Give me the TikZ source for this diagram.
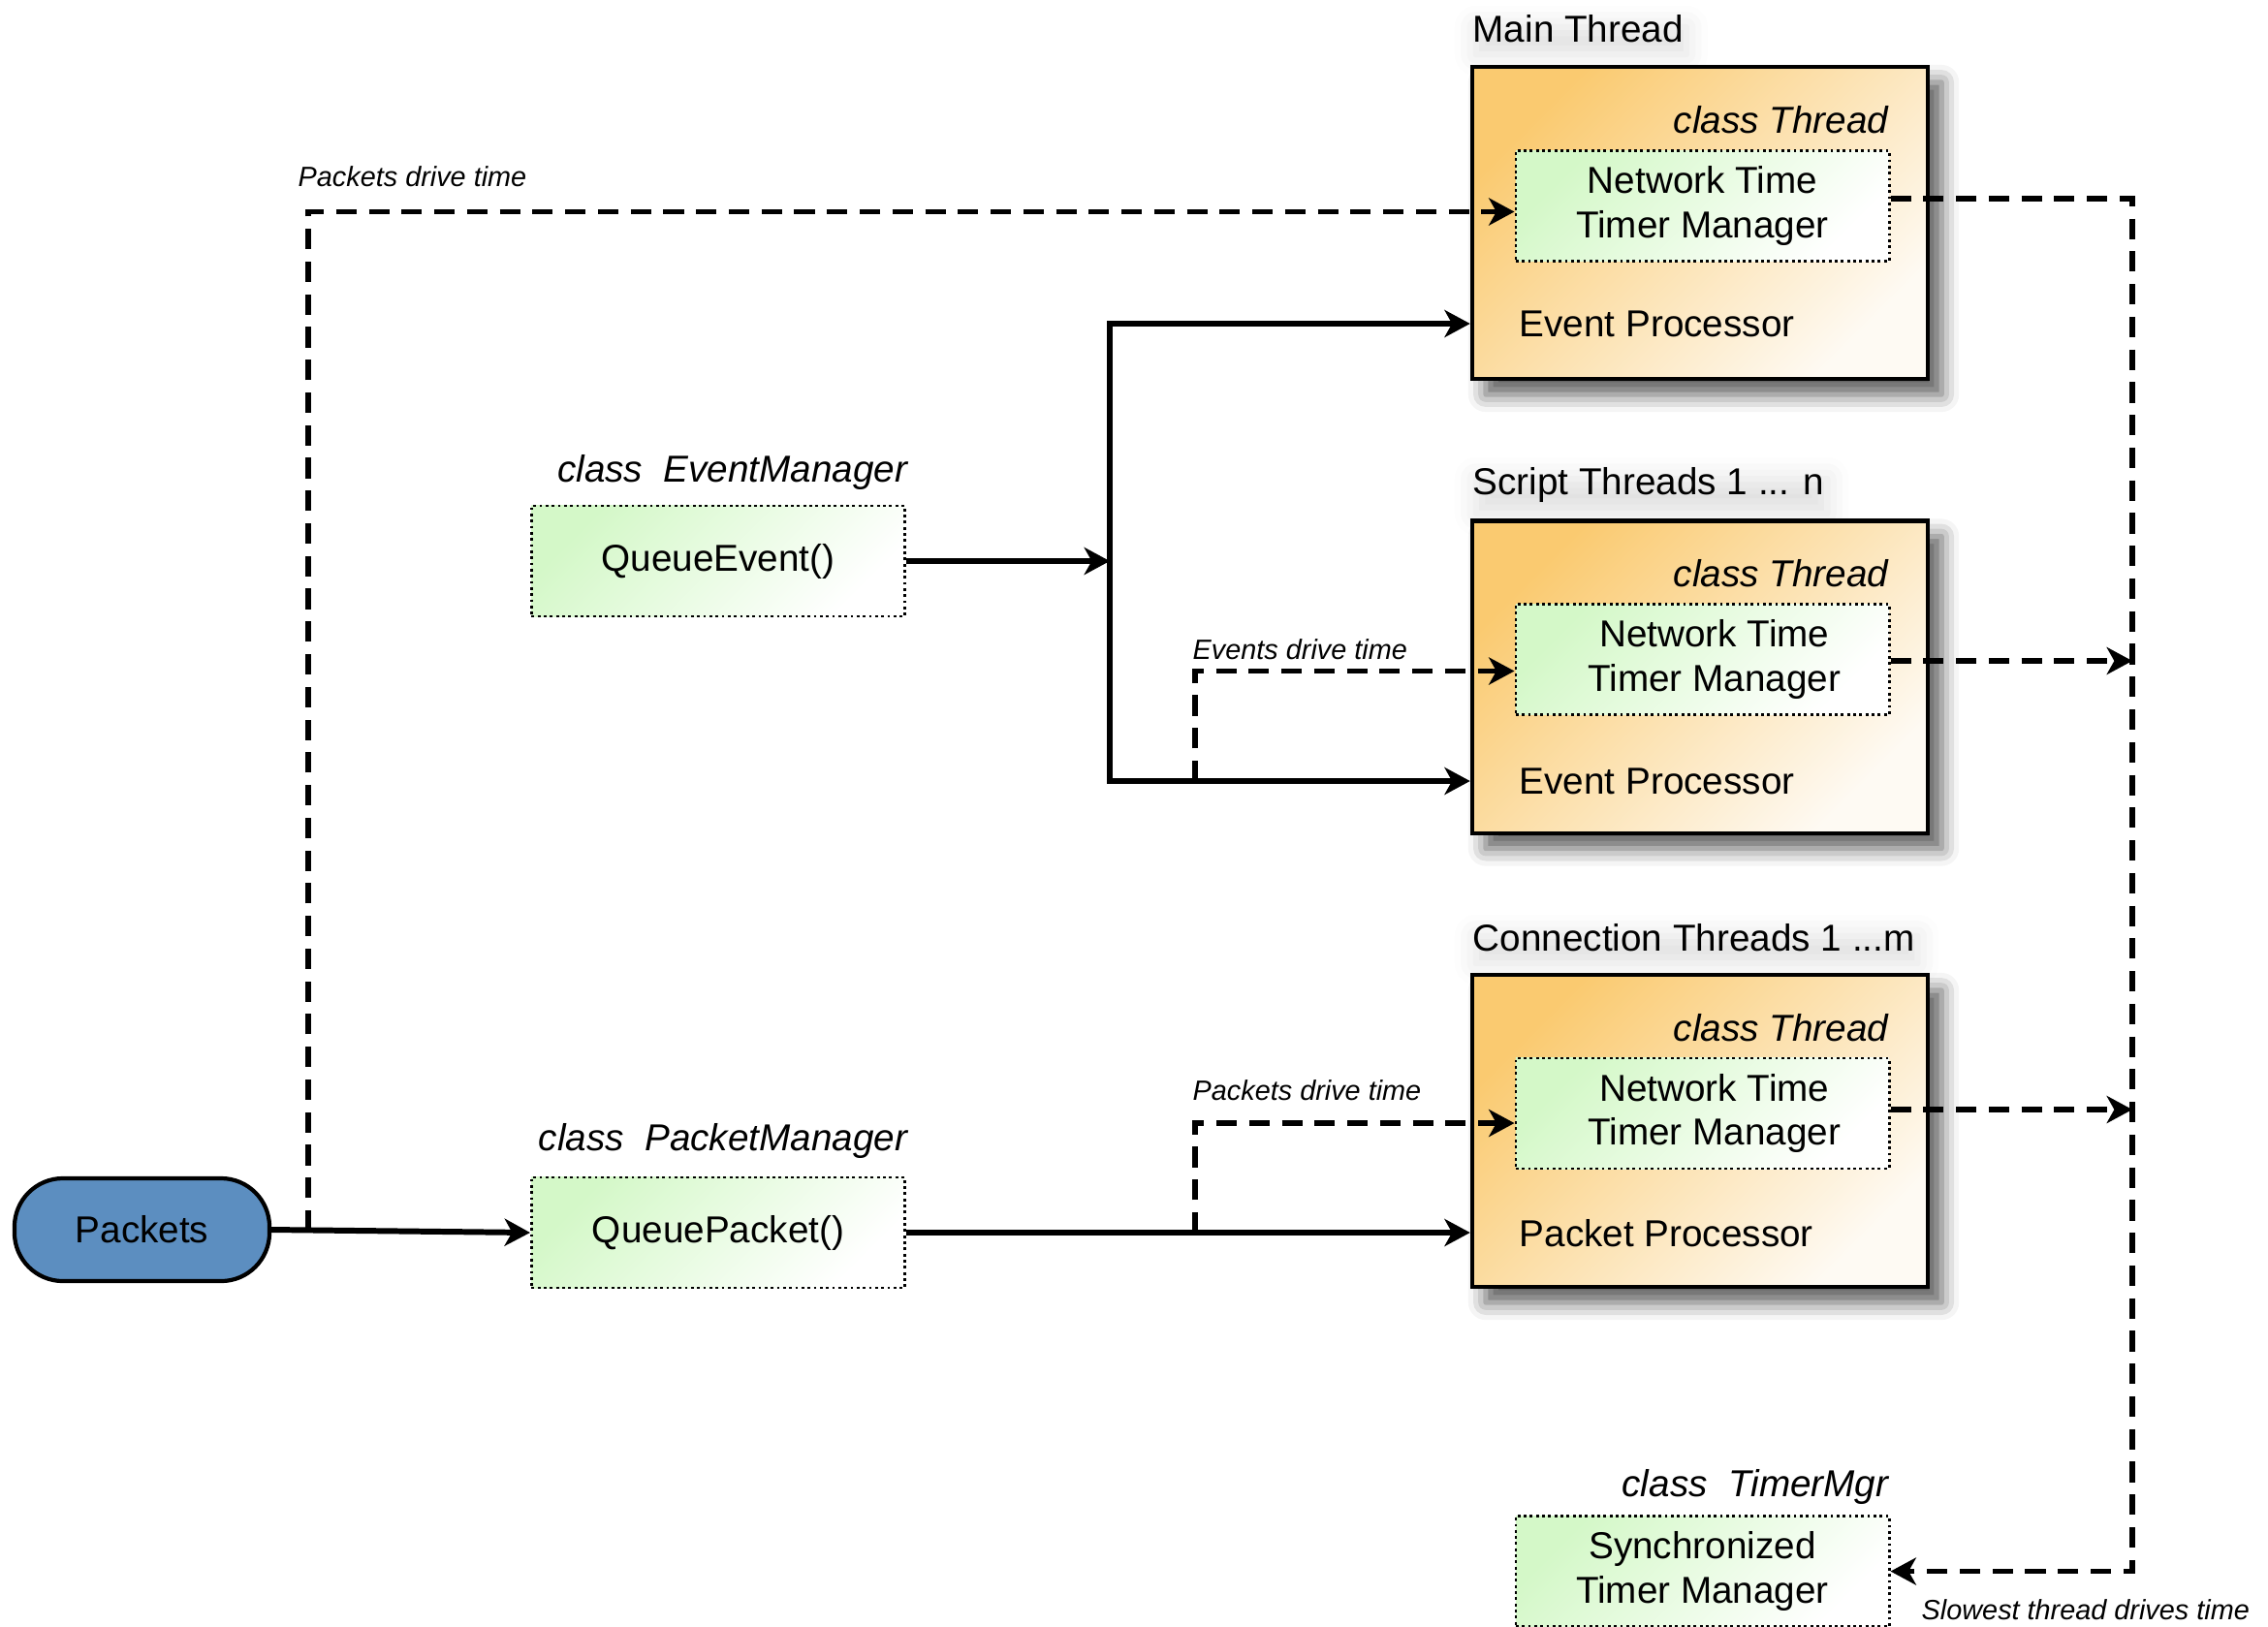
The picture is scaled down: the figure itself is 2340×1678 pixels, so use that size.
\documentclass[tikz,border=0pt]{standalone}
\usepackage{fontspec}
\setmainfont{Liberation Sans}
\usepackage{xcolor}
\usepackage{tikz}
\usetikzlibrary{arrows.meta,shadows.blur}

\definecolor{throrange}{RGB}{250,202,112}
\definecolor{thrlight}{RGB}{254,250,243}
\definecolor{mgrgreen}{RGB}{212,248,200}
\definecolor{pktblue}{RGB}{92,142,192}

\begin{document}
\begin{tikzpicture}[x=0.01cm, y=0.01cm,
    every node/.style={font=\fontsize{11}{13}\selectfont},
    thrbox/.style={draw, line width=1.2pt, minimum width=4.7cm, minimum height=3.22cm,
      top color=throrange, bottom color=thrlight, shading angle=45,
      blur shadow={shadow xshift=1.4mm, shadow yshift=-1.6mm, shadow blur radius=1.8mm, shadow opacity=65}},
    mgrbox/.style={draw, densely dotted, line width=0.8pt, minimum width=3.85cm, minimum height=1.14cm,
      align=center, top color=mgrgreen, bottom color=white, shading angle=45},
    clsname/.style={inner sep=0pt, font=\fontsize{11}{13}\selectfont\itshape},
    txt/.style={inner sep=0pt},
    thrtitle/.style={inner sep=0pt,
      blur shadow={shadow xshift=0.3mm, shadow yshift=-1.2mm, shadow blur radius=2.2mm, shadow opacity=12}},
    lbl/.style={inner sep=0pt, font=\fontsize{8.2}{10}\selectfont\itshape},
    sline/.style={line width=1.7pt},
    dline/.style={line width=1.6pt, dash pattern=on 6pt off 3.6pt},
    >={Stealth[length=7.5pt, width=8pt, inset=2.2pt]}]
  \useasboundingbox (0,0) rectangle (2340,-1678);

  % main thread
  \node[thrtitle, anchor=west] (maintit) at (1519,-30) {Main Thread};
  \node[thrbox] (mainthr) at (1754,-230) {};
  \node[clsname, anchor=east] (maincls) at (1949,-124) {class Thread};
  \node[mgrbox] (mainntm) at (1756.5,-212.5) {Network Time\\Timer Manager};
  \node[txt, anchor=west] (mainep) at (1567,-334) {Event Processor};

  % script threads
  \node[thrtitle, anchor=west] (scrtit) at (1519,-500) {Script Threads 1 ... n};
  \node[thrbox] (scrthr) at (1754,-698.5) {};
  \node[clsname, anchor=east] (scrcls) at (1949,-592) {class Thread};
  \node[mgrbox] (scrntm) at (1756.5,-680.5) {\hspace*{7pt}Network Time\\\hspace*{7pt}Timer Manager};
  \node[txt, anchor=west] (screp) at (1567,-806) {Event Processor};

  % connection threads
  \node[thrtitle, anchor=west] (conntit) at (1519,-968) {Connection Threads 1 ...m};
  \node[thrbox] (connthr) at (1754,-1167) {};
  \node[clsname, anchor=east] (conncls) at (1949,-1061) {class Thread};
  \node[mgrbox] (connntm) at (1756.5,-1149) {\hspace*{7pt}Network Time\\\hspace*{7pt}Timer Manager};
  \node[txt, anchor=west] (connpp) at (1567,-1273) {Packet Processor};

  % managers
  \node[clsname, anchor=east] (evtcls) at (937,-487) {class\ \ EventManager};
  \node[mgrbox] (qevt) at (741,-579) {QueueEvent()};
  \node[clsname, anchor=east] (pktcls) at (937,-1177) {class\ \ PacketManager};
  \node[mgrbox] (qpkt) at (741,-1272) {QueuePacket()};
  \node[clsname, anchor=east] (tmcls) at (1949,-1534) {class\ \ TimerMgr};
  \node[mgrbox] (tmgr) at (1756.5,-1621.5) {Synchronized\\Timer Manager};

  \node[draw, line width=1.2pt, fill=pktblue, rounded corners=0.5cm,
    minimum width=2.63cm, minimum height=1.06cm] (pkts) at (146.5,-1269) {Packets};

  % split points
  \coordinate (pktsplit) at (318,-1270);
  \coordinate (bus) at (1145,-579);
  \coordinate (evsplit) at (1233,-806);
  \coordinate (cpsplit) at (1233,-1272);
  \coordinate (rtop) at (2200,-205);
  \coordinate (rscr) at (2200,-682);
  \coordinate (rconn) at (2200,-1145);

  % solid flow
  \draw[sline, ->] (pkts.east) -- (qpkt.west);
  \draw[sline, ->] (qevt.east) -- (bus);
  \draw[sline, <->] (mainthr.west |- mainep) -| (bus) |- (scrthr.west |- screp);
  \draw[sline, ->] (qpkt.east) -- (qpkt.east -| connthr.west);

  % time flow
  \draw[dline, ->] (pktsplit) |- ([yshift=-0.06cm]mainntm.west);
  \node[lbl, anchor=west] (pktlbl) at (307,-182) {Packets drive time};
  \draw[dline, ->] (evsplit) |- ([yshift=-0.12cm]scrntm.west);
  \node[lbl, anchor=west] (evlbl) at (1230,-670) {Events drive time};
  \draw[dline, ->] (cpsplit) |- ([yshift=-0.1cm]connntm.west);
  \node[lbl, anchor=west] (cplbl) at (1230,-1125) {Packets drive time};

  \draw[dline, ->] (mainntm.east |- rtop) -- (rtop) |- (tmgr.east);
  \draw[dline, ->] (scrntm.east |- rscr) -- (rscr);
  \draw[dline, ->] (connntm.east |- rconn) -- (rconn);
  \node[lbl, anchor=west] (slowlbl) at (1982,-1661) {Slowest thread drives time};
\end{tikzpicture}
\end{document}
